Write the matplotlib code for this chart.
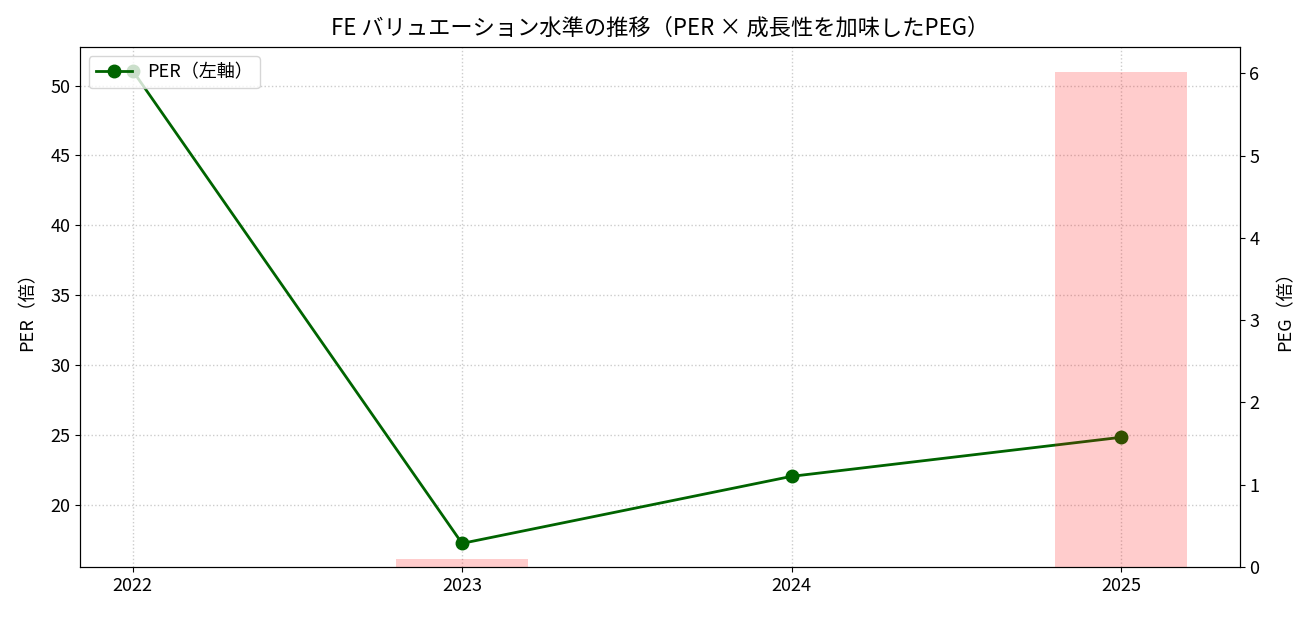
import numpy as np
import matplotlib
matplotlib.use("Agg")
import matplotlib.pyplot as plt

plt.rcParams['font.family'] = ['Noto Sans CJK JP', 'DejaVu Sans']

years = [2022, 2023, 2024, 2025]
per = [51.07, 17.28, 22.07, 24.86]
peg = [np.nan, 0.10, np.nan, 6.02]

title = "FE バリュエーション水準の推移（PER × 成長性を加味したPEG）"

fig, ax1 = plt.subplots(figsize=(13.09, 6.17), dpi=100)
fig.subplots_adjust(left=0.061, right=0.947, top=0.924, bottom=0.081)

ax1.plot(years, per, color='darkgreen', marker='o', markersize=9, linewidth=2, label='PER（左軸）')
ax1.set_ylabel('PER（倍）', fontsize=13, labelpad=10)
ax1.grid(True, linestyle=':', color='#cccccc', linewidth=1)
ax1.set_xticks(years)
ax1.set_xticklabels([str(y) for y in years])
ax1.tick_params(labelsize=13)

ax2 = ax1.twinx()
ax2.bar(years, peg, width=0.4, color='red', alpha=0.2, label='PEG（右軸）')
ax2.set_ylabel('PEG（倍）', fontsize=13, labelpad=12)
ax2.tick_params(labelsize=13)

ax1.legend(loc='upper left', fontsize=13)
ax1.set_title(title, fontsize=16, pad=9)

fig.savefig('out.png')
